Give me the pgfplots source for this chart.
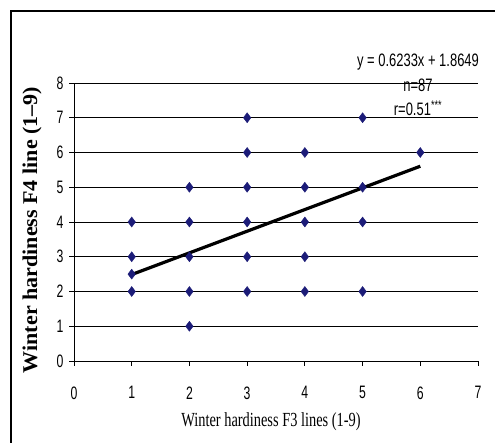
\documentclass[border=0pt]{standalone}
\usepackage{fontspec}
\setmainfont{Liberation Sans}
\newfontfamily\narrow[FakeStretch=0.68]{Liberation Sans}
\newfontfamily\annot[FakeStretch=0.72]{Liberation Sans}
\newfontfamily\serifn[FakeStretch=0.72]{Liberation Serif}
\newfontfamily\serifb[FakeStretch=1.05]{Liberation Serif}
\usepackage{pgfplots}
\pgfplotsset{compat=1.18}
\definecolor{navy}{RGB}{28,28,120}
\pgfplotstableread{
x y
1 4
1 3
1 2.5
1 2
2 5
2 4
2 3
2 2
2 1
3 7
3 6
3 5
3 4
3 3
3 2
4 6
4 5
4 4
4 3
4 2
5 7
5 5
5 4
5 2
6 6
}\pts
\begin{document}
\begin{tikzpicture}[x=1pt,y=1pt]
\path[use as bounding box] (0,0) rectangle (495,443);
\fill[white] (0,0) rectangle (495,443);
\draw[line width=2.6pt] (11,-2) -- (11,432) -- (497,432);
\begin{axis}[
  at={(74pt,82pt)}, anchor=south west,
  scale only axis, width=404pt, height=278pt,
  xmin=0, xmax=7, ymin=0, ymax=8,
  axis lines=left, axis line style={-, black, line width=0.8pt},
  xtick={0,...,7}, ytick={0,...,8},
  tick align=outside, major tick length=5pt,
  tick style={black, line width=0.8pt},
  ymajorgrids, grid style={black, line width=0.7pt},
  xticklabel style={font=\narrow\fontsize{18}{18}\selectfont, yshift=-17pt},
  yticklabel style={font=\narrow\fontsize{18}{18}\selectfont, xshift=-2pt},
  /pgf/number format/assume math mode=true,
  clip=false,
]
\addplot[only marks, mark=diamond*, mark size=5pt, color=navy] table[x=x,y=y] {\pts};
\addplot[black, line width=3.2pt] coordinates {(1,2.4882) (6,5.6047)};
\end{axis}
\node[font=\annot\fontsize{18}{18}\selectfont] at (418,381) {y = 0.6233x + 1.8649};
\node[font=\annot\fontsize{18}{18}\selectfont] at (418,358) {n=87};
\node[font=\annot\fontsize{18}{18}\selectfont] at (418,335) {r=0.51\textsuperscript{***}};
\node[font=\serifn\fontsize{20}{20}\selectfont] at (271,21) {Winter hardiness F3 lines (1-9)};
\node[rotate=90, font=\serifb\bfseries\fontsize{21}{21}\selectfont] at (32,213) {Winter hardiness F4 line (1–9)};
\end{tikzpicture}
\end{document}
